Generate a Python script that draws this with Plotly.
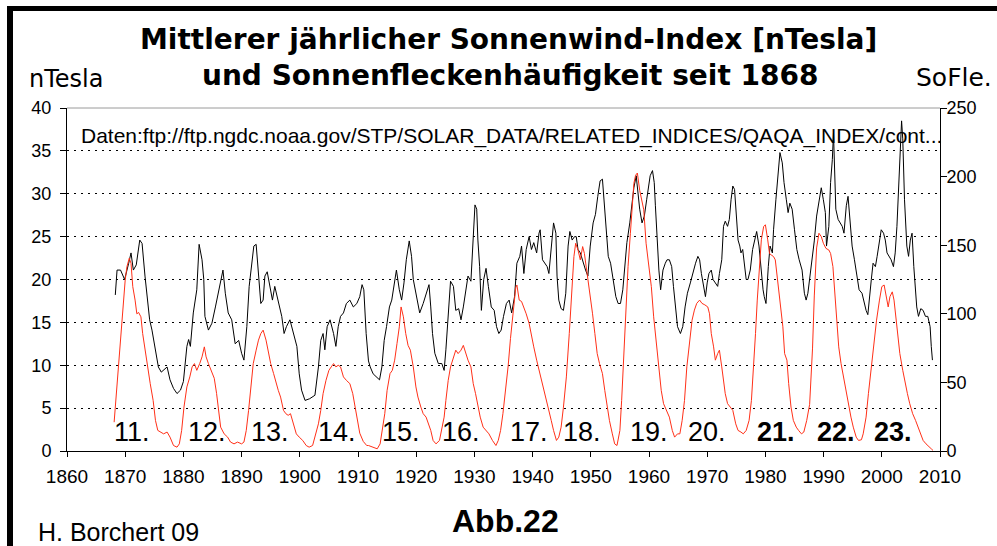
import plotly.graph_objects as go

# ---------------- data ----------------
aa_years = [1868.3, 1868.4, 1868.6, 1869.2, 1869.9, 1870.6, 1871.0, 1871.4, 1871.9, 1872.5,
            1872.9, 1873.4, 1873.8, 1874.2, 1874.6, 1875.2, 1875.7, 1876.2, 1876.6, 1877.2,
            1877.7, 1878.3, 1878.9, 1879.5, 1880.0, 1880.6, 1880.9, 1881.2, 1881.7, 1882.3,
            1882.7, 1883.2, 1883.5, 1883.7, 1884.3, 1884.9, 1885.5, 1886.0, 1886.3, 1886.8,
            1887.2, 1887.7, 1888.3, 1888.9, 1889.5, 1890.0, 1890.4, 1890.9, 1891.3, 1891.7,
            1892.1, 1892.5, 1892.9, 1893.3, 1893.7, 1894.0, 1894.4, 1894.9, 1895.3, 1895.7,
            1896.3, 1896.9, 1897.3, 1897.7, 1898.3, 1898.9, 1899.5, 1899.9, 1900.3, 1900.9,
            1901.7, 1902.6, 1903.2, 1903.6, 1904.0, 1904.3, 1904.7, 1905.2, 1905.8, 1906.2,
            1906.6, 1907.0, 1907.5, 1908.0, 1908.6, 1909.2, 1909.8, 1910.3, 1910.7, 1911.0,
            1911.4, 1911.8, 1912.1, 1912.6, 1913.2, 1913.7, 1914.1, 1914.5, 1914.9, 1915.4,
            1915.8, 1916.3, 1916.6, 1917.1, 1917.5, 1917.9, 1918.3, 1918.8, 1919.2, 1919.5,
            1919.95, 1920.3, 1920.6, 1921.2, 1921.8, 1922.2, 1922.5, 1922.8, 1923.2, 1923.8,
            1924.4, 1924.8, 1925.1, 1925.5, 1925.9, 1926.4, 1926.8, 1927.3, 1927.7, 1928.1,
            1928.5, 1928.9, 1929.4, 1929.8, 1930.1, 1930.4, 1930.6, 1930.9, 1931.2, 1931.6,
            1932.0, 1932.4, 1932.9, 1933.4, 1933.8, 1934.2, 1934.6, 1935.0, 1935.5, 1935.97,
            1936.4, 1936.9, 1937.3, 1937.8, 1938.1, 1938.5, 1938.9, 1939.4, 1939.8, 1940.2,
            1940.7, 1941.1, 1941.3, 1941.7, 1942.1, 1942.5, 1942.8, 1943.2, 1943.6, 1944.0,
            1944.2, 1944.5, 1944.9, 1945.3, 1945.7, 1946.1, 1946.4, 1946.8, 1947.2, 1947.5,
            1947.8, 1948.2, 1948.7, 1949.1, 1949.5, 1949.9, 1950.4, 1950.8, 1951.2, 1951.6,
            1952.0, 1952.3, 1952.7, 1953.0, 1953.4, 1953.8, 1954.3, 1954.7, 1955.1, 1955.5,
            1955.8, 1956.2, 1956.7, 1957.1, 1957.4, 1957.8, 1958.1, 1958.4, 1958.8, 1959.2,
            1959.6, 1960.0, 1960.2, 1960.6, 1960.9, 1961.1, 1961.4, 1961.7, 1962.0, 1962.4,
            1962.8, 1963.1, 1963.5, 1963.9, 1964.2, 1964.6, 1964.9, 1965.4, 1965.8, 1966.2,
            1966.6, 1967.1, 1967.5, 1968.0, 1968.4, 1968.7, 1969.0, 1969.4, 1969.7, 1970.0,
            1970.3, 1970.7, 1971.0, 1971.4, 1971.8, 1972.1, 1972.5, 1972.8, 1973.1, 1973.5,
            1973.8, 1974.1, 1974.4, 1974.7, 1975.0, 1975.3, 1975.6, 1975.8, 1976.1, 1976.4,
            1976.7, 1977.0, 1977.4, 1977.8, 1978.2, 1978.5, 1978.9, 1979.2, 1979.6, 1979.8,
            1980.1, 1980.5, 1980.8, 1981.2, 1981.4, 1981.8, 1982.2, 1982.5, 1982.9, 1983.2,
            1983.6, 1983.9, 1984.2, 1984.6, 1985.0, 1985.4, 1985.8, 1986.3, 1986.7, 1987.0,
            1987.3, 1987.7, 1988.0, 1988.4, 1988.8, 1989.2, 1989.6, 1989.96, 1990.3, 1990.5,
            1990.9, 1991.2, 1991.5, 1991.7, 1991.9, 1992.1, 1992.5, 1992.8, 1993.2, 1993.5,
            1993.9, 1994.2, 1994.5, 1994.9, 1995.3, 1995.7, 1996.1, 1996.6, 1997.0, 1997.3,
            1997.6, 1997.9, 1998.2, 1998.5, 1998.9, 1999.2, 1999.6, 1999.9, 2000.3, 2000.6,
            2000.9, 2001.3, 2001.6, 2002.0, 2002.3, 2002.6, 2002.9, 2003.2, 2003.4, 2003.6,
            2003.9, 2004.3, 2004.6, 2004.9, 2005.2, 2005.5, 2005.8, 2006.0, 2006.3, 2006.7,
            2007.1, 2007.5, 2007.9, 2008.3, 2008.5, 2008.7]
aa_values = [18.2, 19.8, 21.1, 21.1, 20.0, 21.9, 23.1, 21.1, 21.7, 24.6,
             24.2, 20.4, 17.6, 15.3, 14.1, 11.8, 9.8, 9.2, 9.4, 9.8,
             8.3, 7.3, 6.7, 7.1, 8.1, 12.2, 13.0, 12.2, 16.1, 18.8,
             24.1, 22.3, 20.0, 15.7, 14.1, 14.9, 16.8, 18.5, 19.8, 21.1,
             18.4, 16.1, 15.3, 12.5, 12.9, 11.4, 10.6, 14.5, 19.2, 21.5,
             23.9, 24.1, 20.0, 17.2, 17.6, 20.4, 20.9, 19.2, 17.6, 19.2,
             17.6, 15.7, 13.7, 14.5, 15.3, 13.7, 12.2, 9.0, 7.1, 5.9,
             6.1, 6.5, 9.8, 12.9, 13.7, 11.8, 14.5, 15.3, 13.7, 12.2,
             14.5, 15.7, 16.1, 17.2, 17.6, 16.8, 17.2, 18.0, 19.4, 18.8,
             13.7, 10.5, 9.8, 9.0, 8.6, 8.3, 9.8, 12.9, 14.5, 16.8,
             17.6, 20.0, 21.1, 18.8, 17.6, 19.6, 22.3, 24.5, 22.7, 20.0,
             18.4, 17.6, 16.1, 17.2, 18.4, 19.4, 16.8, 13.7, 11.4, 10.2,
             10.2, 9.4, 11.8, 15.3, 19.8, 19.2, 16.4, 16.6, 15.3, 16.8,
             18.4, 20.4, 19.8, 24.3, 28.7, 28.2, 24.6, 21.5, 16.4, 20.0,
             21.3, 19.2, 16.8, 16.4, 14.5, 13.7, 14.1, 15.7, 17.2, 17.6,
             16.1, 18.0, 21.9, 22.7, 23.9, 20.7, 23.5, 25.0, 23.5, 24.3,
             23.1, 25.4, 25.8, 22.3, 21.9, 21.5, 20.7, 23.9, 26.6, 25.4,
             20.4, 17.6, 16.6, 16.4, 18.4, 23.9, 25.6, 24.6, 25.0, 25.0,
             23.5, 23.1, 21.9, 21.1, 20.4, 23.9, 26.6, 27.6, 29.7, 31.5,
             31.7, 29.3, 25.4, 22.7, 21.9, 20.0, 18.0, 17.2, 17.2, 18.8,
             21.5, 24.3, 26.6, 29.3, 30.7, 32.1, 30.1, 28.2, 26.6, 27.4,
             29.3, 31.3, 32.1, 32.7, 31.3, 28.6, 24.6, 21.1, 18.8, 21.1,
             21.9, 22.3, 22.3, 21.5, 19.2, 16.8, 14.5, 13.7, 14.5, 16.8,
             18.4, 19.6, 20.7, 21.9, 22.7, 22.3, 20.7, 19.2, 18.0, 19.6,
             20.7, 21.1, 20.0, 19.6, 19.2, 20.7, 22.3, 26.2, 26.8, 26.2,
             27.0, 29.3, 30.9, 30.5, 27.8, 24.6, 23.9, 23.1, 23.5, 21.9,
             20.0, 20.0, 21.1, 23.5, 24.6, 25.6, 23.9, 21.5, 18.8, 18.0,
             17.2, 21.5, 23.9, 23.1, 25.8, 29.3, 32.9, 34.8, 33.6, 31.3,
             29.3, 27.8, 28.9, 28.2, 25.8, 23.5, 22.3, 21.1, 18.4, 17.6,
             18.4, 20.5, 22.3, 24.5, 27.4, 29.0, 30.7, 29.3, 27.8, 23.9,
             26.2, 31.3, 34.0, 37.1, 32.8, 28.2, 27.0, 26.6, 26.2, 25.4,
             28.6, 29.7, 27.0, 23.9, 22.3, 20.4, 18.8, 18.4, 17.2, 16.4,
             15.9, 17.6, 20.0, 21.9, 21.5, 22.7, 24.3, 25.8, 25.4, 24.6,
             23.1, 22.7, 22.3, 21.5, 23.1, 26.2, 31.3, 35.6, 38.5, 36.4,
             29.3, 23.9, 22.7, 24.6, 25.4, 21.5, 19.2, 16.8, 15.7, 16.6,
             16.4, 15.7, 15.7, 14.5, 12.2, 10.6]

ssn_years = [1868.1, 1868.5, 1868.9, 1869.3, 1869.6, 1870.0, 1870.3, 1870.7, 1871.0, 1871.3,
             1871.7, 1872.0, 1872.3, 1872.7, 1873.0, 1873.4, 1873.8, 1874.3, 1874.8, 1875.2,
             1875.6, 1876.0, 1876.6, 1877.2, 1877.7, 1878.3, 1878.9, 1879.3, 1879.7, 1880.1,
             1880.6, 1881.1, 1881.5, 1881.9, 1882.3, 1882.8, 1883.2, 1883.6, 1883.9, 1884.3,
             1884.9, 1885.3, 1885.7, 1886.1, 1886.4, 1887.0, 1887.6, 1888.1, 1888.7, 1889.3,
             1890.0, 1890.4, 1890.8, 1891.2, 1891.6, 1892.0, 1892.5, 1892.9, 1893.3, 1893.7,
             1894.2, 1894.6, 1895.0, 1895.5, 1895.9, 1896.3, 1896.7, 1897.2, 1897.6, 1898.0,
             1898.4, 1898.9, 1899.4, 1899.9, 1900.5, 1901.1, 1901.6, 1902.2, 1902.8, 1903.2,
             1903.6, 1904.0, 1904.5, 1905.0, 1905.4, 1905.8, 1906.2, 1906.6, 1907.0, 1907.5,
             1908.0, 1908.6, 1909.1, 1909.5, 1909.9, 1910.3, 1910.9, 1911.5, 1911.8, 1912.6,
             1913.3, 1913.8, 1914.2, 1914.6, 1915.0, 1915.5, 1915.9, 1916.3, 1916.7, 1917.1,
             1917.4, 1917.8, 1918.2, 1918.6, 1919.0, 1919.5, 1919.95, 1920.3, 1920.8, 1921.2,
             1921.7, 1922.1, 1922.5, 1922.9, 1923.4, 1924.0, 1924.4, 1924.8, 1925.1, 1925.5,
             1925.9, 1926.4, 1926.8, 1927.2, 1927.7, 1928.1, 1928.5, 1928.9, 1929.4, 1929.8,
             1930.2, 1930.6, 1931.0, 1931.5, 1932.0, 1932.5, 1933.1, 1933.7, 1934.1, 1934.5,
             1934.9, 1935.4, 1935.8, 1936.2, 1936.7, 1937.1, 1937.3, 1937.7, 1938.1, 1938.5,
             1938.9, 1939.4, 1939.8, 1940.2, 1940.7, 1941.1, 1941.5, 1941.9, 1942.4, 1942.8,
             1943.2, 1943.6, 1944.1, 1944.5, 1944.9, 1945.3, 1945.8, 1946.3, 1946.7, 1947.1,
             1947.4, 1947.8, 1948.2, 1948.6, 1948.9, 1949.4, 1949.8, 1950.3, 1950.7, 1951.1,
             1951.5, 1952.0, 1952.4, 1952.8, 1953.2, 1953.7, 1954.1, 1954.5, 1955.0, 1955.3,
             1955.6, 1956.0, 1956.4, 1956.8, 1957.1, 1957.4, 1957.7, 1958.0, 1958.4, 1958.7,
             1959.1, 1959.5, 1960.0, 1960.4, 1960.8, 1961.3, 1961.7, 1962.1, 1962.5, 1963.0,
             1963.5, 1964.0, 1964.4, 1964.9, 1965.3, 1965.7, 1966.1, 1966.5, 1967.0, 1967.4,
             1967.8, 1968.2, 1968.7, 1969.1, 1969.6, 1970.1, 1970.4, 1970.7, 1971.1, 1971.4,
             1971.8, 1972.1, 1972.5, 1972.8, 1973.1, 1973.5, 1973.9, 1974.4, 1974.9, 1975.3,
             1975.8, 1976.2, 1976.7, 1977.2, 1977.6, 1978.0, 1978.3, 1978.6, 1979.0, 1979.3,
             1979.7, 1980.0, 1980.4, 1980.7, 1981.0, 1981.4, 1981.7, 1982.1, 1982.5, 1983.0,
             1983.3, 1983.7, 1984.0, 1984.4, 1984.8, 1985.3, 1985.7, 1986.2, 1986.6, 1987.1,
             1987.6, 1988.0, 1988.1, 1988.4, 1988.8, 1989.2, 1989.6, 1989.96, 1990.4, 1990.9,
             1991.2, 1991.6, 1991.9, 1992.3, 1992.6, 1993.0, 1993.4, 1993.9, 1994.3, 1994.7,
             1995.1, 1995.6, 1996.0, 1996.5, 1996.8, 1997.3, 1997.7, 1998.2, 1998.7, 1999.1,
             1999.6, 2000.0, 2000.4, 2000.7, 2001.1, 2001.4, 2001.8, 2002.1, 2002.4, 2002.8,
             2003.1, 2003.6, 2004.0, 2004.4, 2004.8, 2005.3, 2005.8, 2006.2, 2006.7, 2007.1,
             2007.6, 2008.0, 2008.5, 2008.8]
ssn_values = [21.0, 41.8, 68.6, 85.6, 100.0, 124.6, 134.4, 140.5, 136.8, 119.8,
              110.0, 100.0, 101.0, 97.8, 85.6, 73.5, 63.7, 49.1, 36.9, 22.3,
              15.0, 13.8, 12.5, 13.8, 10.1, 4.0, 2.8, 5.2, 15.0, 32.0,
              46.7, 54.0, 61.3, 63.7, 58.8, 63.7, 68.6, 75.9, 68.6, 63.7,
              57.0, 53.0, 42.0, 29.0, 17.4, 12.5, 10.1, 6.5, 5.2, 6.5,
              5.2, 6.5, 15.0, 29.6, 46.7, 63.7, 73.5, 80.8, 85.6, 88.1,
              80.8, 71.0, 63.7, 56.4, 49.1, 44.2, 39.3, 29.6, 27.2, 26.0,
              27.2, 19.8, 12.5, 10.1, 7.7, 4.0, 2.8, 4.0, 12.5, 19.8,
              29.6, 41.8, 51.5, 58.8, 61.3, 63.7, 61.3, 62.5, 61.3, 54.0,
              51.5, 49.1, 41.8, 32.0, 22.3, 13.0, 7.0, 4.0, 4.0, 2.8,
              1.6, 5.2, 15.0, 27.2, 44.2, 56.4, 58.8, 66.2, 78.3, 90.5,
              105.0, 97.8, 85.6, 77.0, 73.5, 61.3, 46.7, 39.3, 32.0, 27.2,
              24.7, 19.8, 15.0, 7.7, 5.2, 7.7, 15.0, 24.7, 36.9, 51.5,
              61.3, 68.6, 73.5, 71.0, 73.5, 77.0, 71.0, 66.2, 61.3, 49.1,
              41.8, 32.0, 24.7, 17.4, 15.0, 12.5, 7.7, 4.0, 7.7, 15.0,
              27.2, 44.2, 62.0, 82.0, 105.0, 119.0, 121.0, 110.0, 109.0, 105.0,
              100.0, 93.0, 85.6, 75.9, 66.2, 58.8, 51.5, 44.2, 36.9, 29.6,
              22.3, 15.0, 7.7, 10.1, 17.4, 32.0, 54.0, 85.6, 115.0, 141.7,
              151.4, 146.5, 139.3, 149.0, 144.0, 129.5, 115.0, 100.0, 85.6, 71.0,
              63.7, 56.4, 44.2, 32.0, 22.3, 12.5, 5.2, 4.0, 15.0, 36.9,
              66.2, 100.0, 134.4, 158.7, 178.0, 195.0, 201.0, 202.6, 190.0, 183.0,
              175.8, 151.4, 134.4, 119.8, 97.8, 78.3, 58.8, 44.2, 34.5, 29.6,
              24.7, 15.0, 10.1, 12.5, 12.5, 22.3, 36.9, 61.3, 80.8, 95.4,
              102.7, 107.6, 110.0, 107.6, 106.5, 105.0, 100.0, 85.6, 75.9, 66.2,
              71.0, 73.5, 61.3, 49.1, 41.8, 34.5, 32.0, 29.6, 19.8, 15.0,
              13.8, 12.5, 15.0, 22.3, 36.9, 61.3, 85.6, 110.0, 136.8, 153.9,
              163.6, 164.9, 153.9, 144.0, 142.9, 141.7, 139.3, 124.6, 110.0, 90.5,
              71.0, 66.2, 49.1, 32.0, 22.3, 17.4, 15.0, 12.5, 13.8, 22.3,
              34.0, 61.3, 75.0, 113.0, 148.0, 158.7, 156.3, 151.4, 147.7, 146.5,
              144.0, 134.4, 115.0, 90.5, 75.9, 63.7, 54.0, 41.8, 32.0, 24.7,
              17.4, 10.1, 7.7, 8.2, 12.5, 24.7, 41.8, 61.3, 80.8, 95.4,
              110.0, 119.8, 121.0, 115.0, 105.0, 112.5, 116.0, 110.0, 97.8, 83.2,
              71.0, 58.8, 49.1, 41.8, 34.5, 27.2, 22.3, 17.4, 12.5, 7.7,
              5.2, 3.3, 1.6, 0.4]

x_tick_values = [1860, 1870, 1880, 1890, 1900, 1910, 1920, 1930, 1940, 1950,
                 1960, 1970, 1980, 1990, 2000, 2010]
left_tick_values = [0, 5, 10, 15, 20, 25, 30, 35, 40]
right_tick_values = [0, 50, 100, 150, 200, 250]

cycle_labels = ["11.", "12.", "13.", "14.", "15.", "16.", "17.", "18.", "19.",
                "20.", "21.", "22.", "23."]
cycle_label_years = [1871.1, 1884.0, 1894.8, 1906.4, 1917.4, 1927.7, 1939.4,
                     1948.5, 1960.0, 1969.9, 1981.9, 1992.2, 2002.0]
bold_cycles = ["21.", "22.", "23."]

title_line1 = "Mittlerer jährlicher Sonnenwind-Index [nTesla]"
title_line2 = "und Sonnenfleckenhäufigkeit seit 1868"
source_text = "Daten:ftp://ftp.ngdc.noaa.gov/STP/SOLAR_DATA/RELATED_INDICES/QAQA_INDEX/cont..."

# ---------------- layout geometry ----------------
W, H = 997, 546
ML, MR, MT, MB = 67, 57, 108, 95
PW, PH = W - ML - MR, H - MT - MB


def px_x(x):
    return (x - ML) / PW


def px_y(y):
    return (H - MB - y) / PH


ARIAL = "Liberation Sans, Arial, sans-serif"
WIDE = "DejaVu Sans, sans-serif"

fig = go.Figure()
fig.add_trace(go.Scatter(x=aa_years, y=aa_values, mode="lines",
                         line=dict(color="black", width=1), yaxis="y",
                         showlegend=False, hoverinfo="skip"))
fig.add_trace(go.Scatter(x=ssn_years, y=ssn_values, mode="lines",
                         line=dict(color="#ff3018", width=1), yaxis="y2",
                         showlegend=False, hoverinfo="skip"))

annotations = []
annotations.append(dict(text="<b>" + title_line1 + "</b>", x=px_x(508), y=px_y(39),
                        xref="paper", yref="paper", xanchor="center", yanchor="middle",
                        showarrow=False, font=dict(family=WIDE, size=28, color="black")))
annotations.append(dict(text="<b>" + title_line2 + "</b>", x=px_x(510), y=px_y(76),
                        xref="paper", yref="paper", xanchor="center", yanchor="middle",
                        showarrow=False, font=dict(family=WIDE, size=28, color="black")))
annotations.append(dict(text="nTesla", x=px_x(27), y=px_y(79),
                        xref="paper", yref="paper", xanchor="left", yanchor="middle",
                        showarrow=False, font=dict(family=WIDE, size=24, color="black")))
annotations.append(dict(text="SoFle.", x=px_x(994), y=px_y(78),
                        xref="paper", yref="paper", xanchor="right", yanchor="middle",
                        showarrow=False, font=dict(family=WIDE, size=25, color="black")))
annotations.append(dict(text=source_text, x=px_x(79), y=px_y(136),
                        xref="paper", yref="paper", xanchor="left", yanchor="middle",
                        showarrow=False, font=dict(family=ARIAL, size=21, color="black")))
annotations.append(dict(text="H. Borchert 09", x=px_x(36), y=px_y(532),
                        xref="paper", yref="paper", xanchor="left", yanchor="middle",
                        showarrow=False, font=dict(family=ARIAL, size=25, color="black")))
annotations.append(dict(text="<b>Abb.22</b>", x=px_x(505), y=px_y(521),
                        xref="paper", yref="paper", xanchor="center", yanchor="middle",
                        showarrow=False, font=dict(family=ARIAL, size=32, color="black")))
for lab, yr in zip(cycle_labels, cycle_label_years):
    txt = "<b>" + lab + "</b>" if lab in bold_cycles else lab
    annotations.append(dict(text=txt, x=yr, y=px_y(432), xref="x", yref="paper",
                            xanchor="center", yanchor="middle", showarrow=False,
                            font=dict(family=ARIAL, size=27, color="black")))

shapes = [
    dict(type="line", xref="paper", yref="paper", x0=0, x1=1, y0=1, y1=1,
         line=dict(color="#9a9a9a", width=1), layer="above"),
    dict(type="rect", xref="paper", yref="paper", x0=px_x(7), x1=px_x(13),
         y0=px_y(560), y1=px_y(6), fillcolor="black", line=dict(width=0), layer="above"),
    dict(type="rect", xref="paper", yref="paper", x0=px_x(7), x1=px_x(1010),
         y0=px_y(11), y1=px_y(6), fillcolor="black", line=dict(width=0), layer="above"),
]

fig.update_layout(
    width=W, height=H,
    margin=dict(l=ML, r=MR, t=MT, b=MB, pad=0),
    paper_bgcolor="white", plot_bgcolor="white",
    showlegend=False,
    annotations=annotations,
    shapes=shapes,
    xaxis=dict(range=[1860, 2010], tickvals=x_tick_values, ticks="outside", ticklen=5,
               tickcolor="black", showline=True, linecolor="black", linewidth=1,
               showgrid=False, zeroline=False, ticklabelstandoff=3,
               tickfont=dict(family=ARIAL, size=19, color="black")),
    yaxis=dict(range=[0, 40], tickvals=left_tick_values, ticks="outside", ticklen=6,
               tickcolor="black", showline=True, linecolor="black", linewidth=1,
               showgrid=True, gridcolor="black", griddash="2px,5px", gridwidth=1,
               zeroline=False, ticklabelstandoff=5,
               tickfont=dict(family=ARIAL, size=18, color="black")),
    yaxis2=dict(range=[0, 250], tickvals=right_tick_values, overlaying="y", side="right",
                ticks="outside", ticklen=6, tickcolor="black", showline=True,
                linecolor="black", linewidth=1, showgrid=False, zeroline=False,
                ticklabelstandoff=-4,
                tickfont=dict(family=ARIAL, size=18, color="black")),
)

fig.write_html("out.html", config={"displayModeBar": False},
               post_script="document.body.style.margin='0px';document.body.style.padding='0px';")
